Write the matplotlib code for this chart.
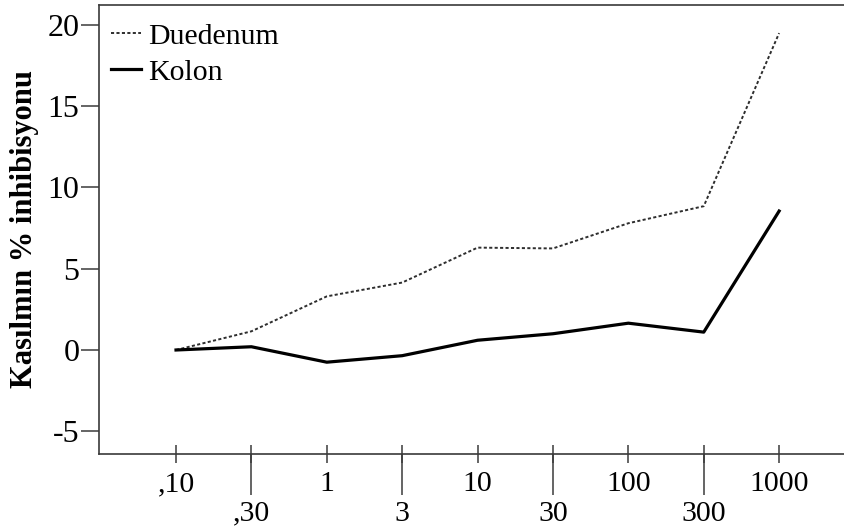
import numpy as np
import matplotlib
matplotlib.use("Agg")
import matplotlib.pyplot as plt

doses = [",10", ",30", "1", "3", "10", "30", "100", "300", "1000"]
duedenum = [0, 1.15, 3.3, 4.15, 6.3, 6.25, 7.8, 8.85, 19.5]
kolon = [0, 0.2, -0.75, -0.35, 0.6, 1.0, 1.65, 1.1, 8.55]

plt.rcParams['font.family'] = ['Liberation Serif', 'DejaVu Serif']
fs = 21.5
koyu = '#3a3a3a'

fig = plt.figure(figsize=(8.45, 5.31), dpi=100)
ax = fig.add_axes([99 / 845, 77 / 531, 751 / 845, 449 / 531])

x = np.arange(len(doses))
ax.plot(x, duedenum, color='#2e2e2e', lw=1.4, linestyle=(0, (1.6, 1.2)), label='Duedenum')
ax.plot(x, kolon, color='black', lw=2.3, label='Kolon')

ax.set_xlim(-1.0216, 8.94)
ax.set_ylim(-6.4, 21.23)
ax.set_yticks([-5, 0, 5, 10, 15, 20])
ax.set_yticklabels(['-5', '0', '5', '10', '15', '20'])

# alternating tick labels: even ones short ticks, odd ones long ticks
ax.xaxis.remove_overlapping_locs = False
ax.set_xticks(x)
ax.set_xticklabels([d if i % 2 == 0 else '' for i, d in enumerate(doses)])
ax.set_xticks(x[1::2], minor=True)
ax.set_xticklabels(doses[1::2], minor=True)
ax.tick_params(axis='x', which='major', direction='inout', length=13, width=1.1,
               color=koyu, labelsize=fs, pad=6)
ax.tick_params(axis='x', which='minor', direction='out', length=29.5, width=1.1,
               color=koyu, labelsize=fs, pad=4)
ax.tick_params(axis='y', direction='out', length=13, width=1.1, color=koyu,
               labelsize=23, pad=1)

for s in ['left', 'bottom', 'top']:
    ax.spines[s].set_color(koyu)
    ax.spines[s].set_linewidth(1.2)
ax.spines['right'].set_visible(False)

ax.set_ylabel('Kasılmın % inhibisyonu', fontsize=22, fontweight='bold')
ax.yaxis.set_label_coords(-0.080, 0.5)

ax.legend(loc='upper left', bbox_to_anchor=(0.016, 0.96), frameon=False,
          fontsize=fs, handlelength=1.0, handletextpad=0.25, labelspacing=0.3,
          borderaxespad=0, borderpad=0)

fig.savefig('out.png', dpi=100)
